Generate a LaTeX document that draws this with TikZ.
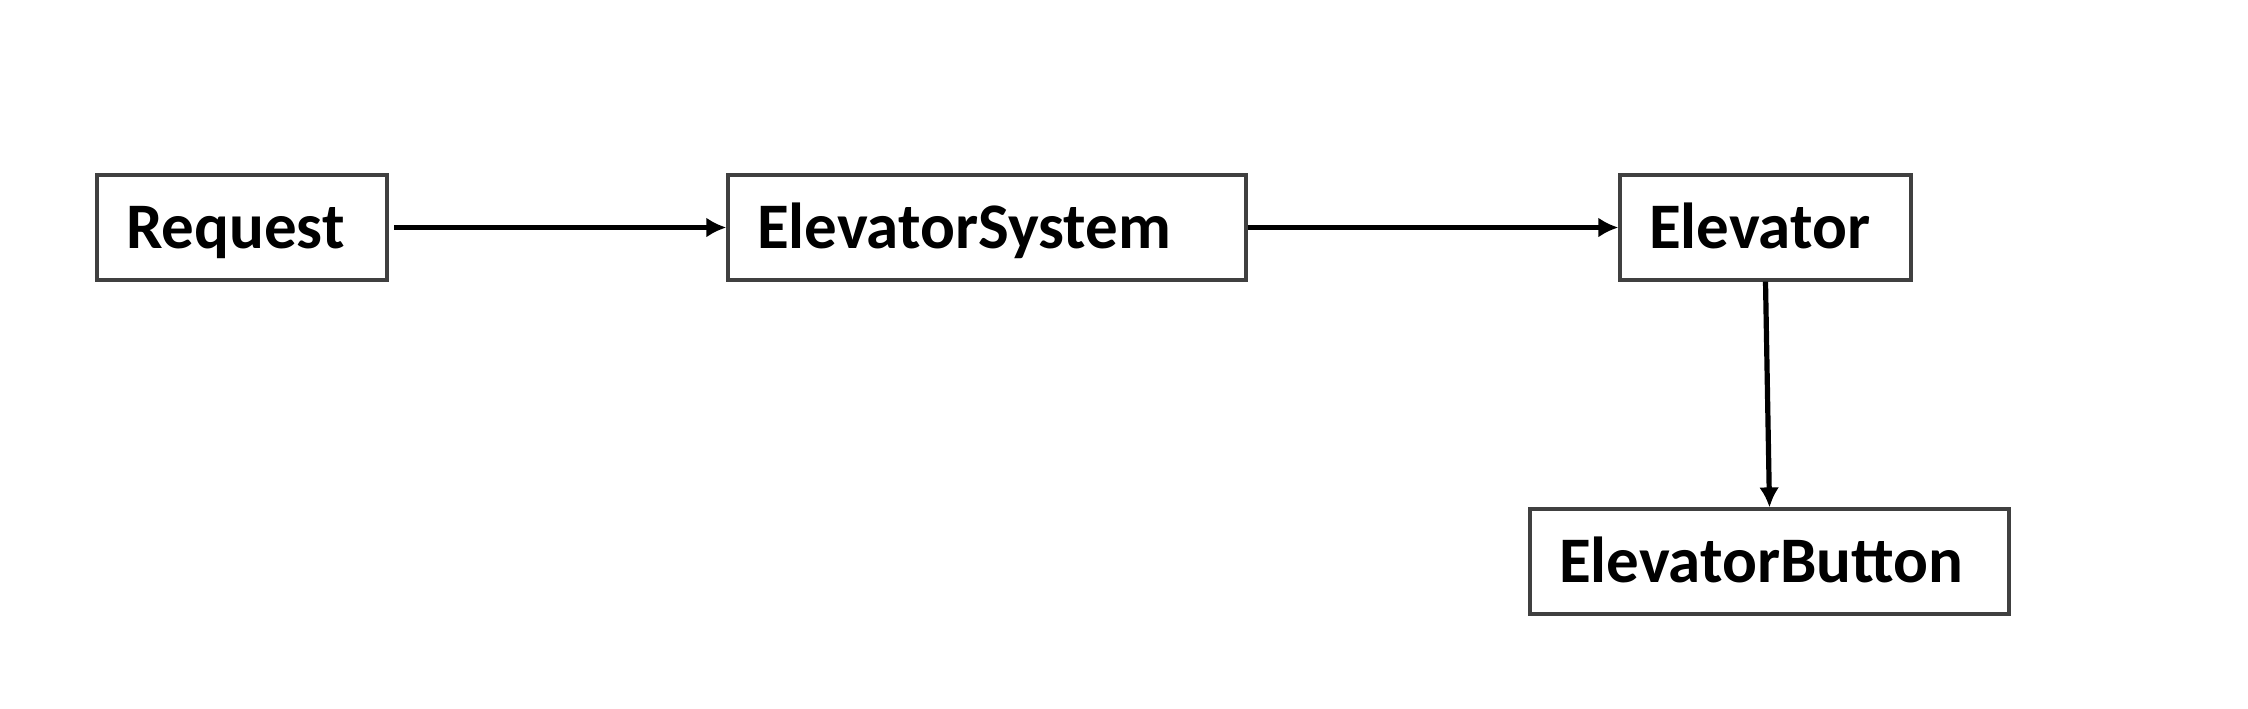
\documentclass[tikz,border=0pt]{standalone}
\usepackage{fontspec}
\setmainfont{Carlito}
\usetikzlibrary{arrows.meta}
\begin{document}
\begin{tikzpicture}[x=0.5pt,y=-0.5pt,
  cls/.style={draw=black!75,line width=1.6pt,fill=white,inner xsep=14.5pt,inner ysep=0pt,align=left,text height=22pt,text depth=1.2pt,minimum height=52.5pt,font=\fontsize{32.5}{38}\selectfont\bfseries,anchor=center},
  assoc/.style={line width=2.6pt,-{Latex[length=10pt,width=10pt]}}]
\fill[white] (0,0) rectangle (2248,708);
\useasboundingbox (0,0) rectangle (2248,708);
\node[cls,text width=116pt] (req) at (242,227.5) {Request};
\node[cls,text width=230pt] (sys) at (987,227.5) {ElevatorSystem};
\node[cls,text width=116.5pt] (elev) at (1765.5,227.5) {Elevator};
\node[cls,text width=210.5pt] (btn) at (1769.5,561.5) {ElevatorButton};
\coordinate (reqout) at (394,227.5);
\draw[assoc] (reqout) -- (sys.west);
\draw[assoc] (sys.east) -- (elev.west);
\draw[assoc] (elev.south) -- (btn.north);
\end{tikzpicture}
\end{document}
